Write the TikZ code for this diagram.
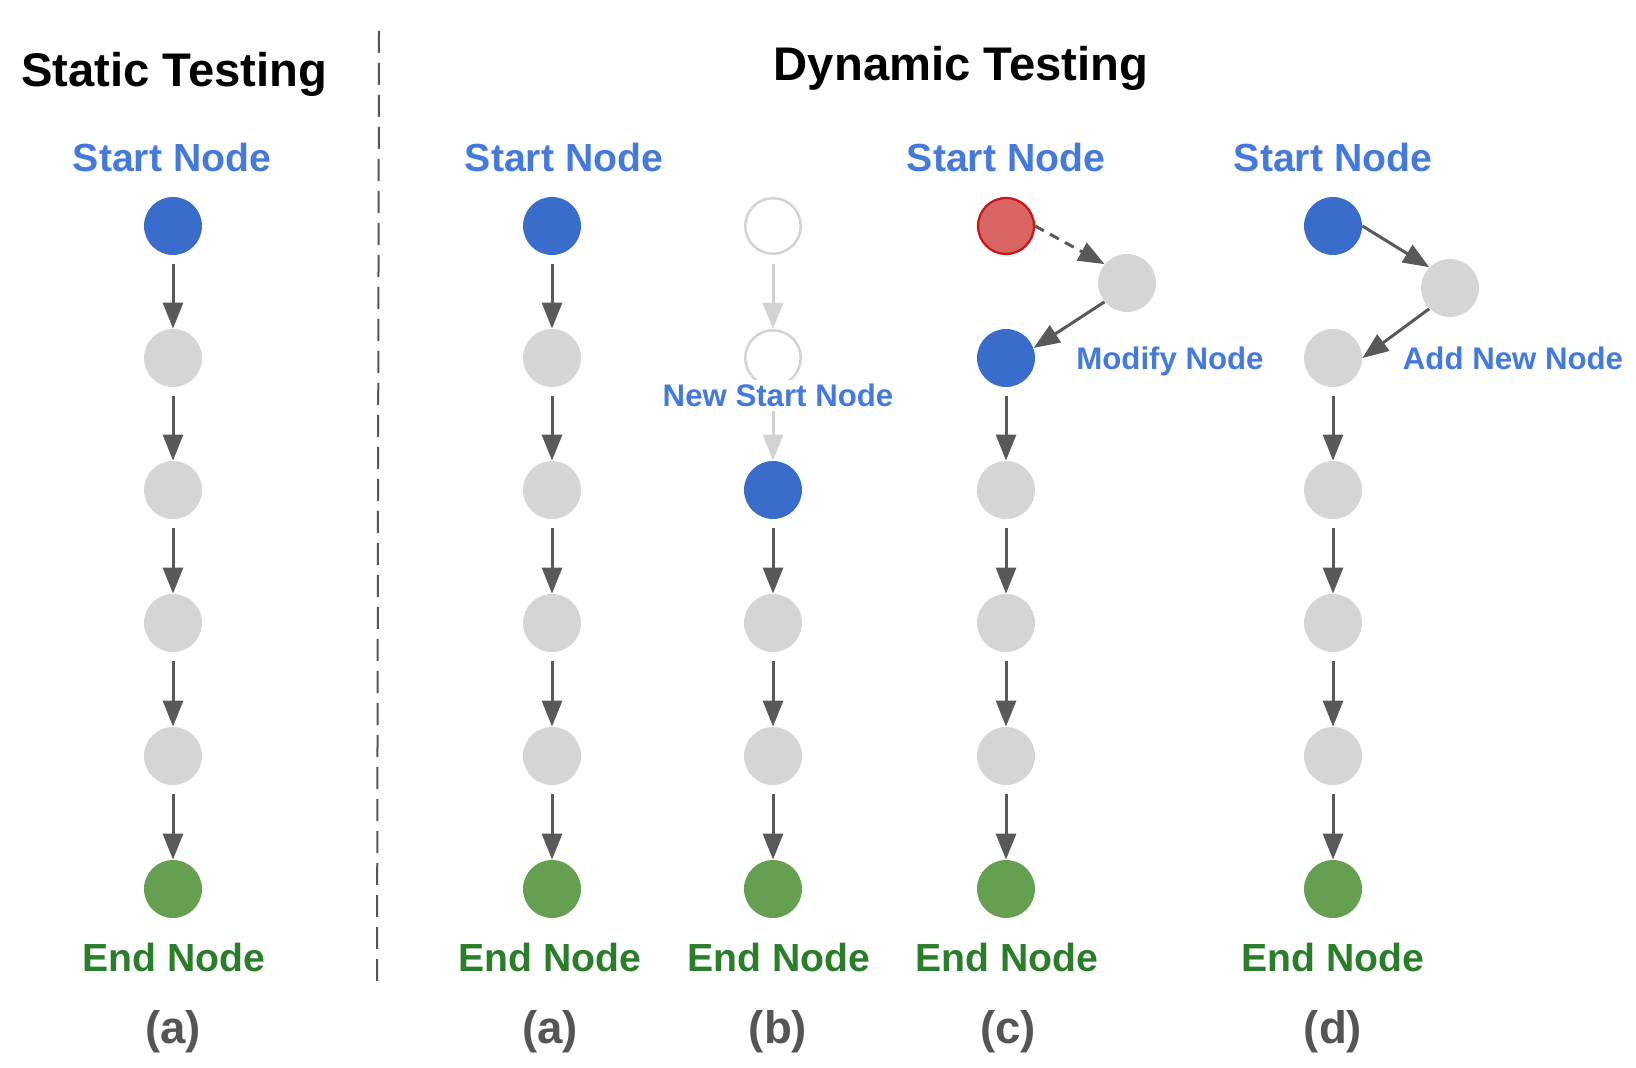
\documentclass[tikz,border=0pt]{standalone}
\usepackage{fontspec}
\setmainfont{Liberation Sans}
\usetikzlibrary{arrows.meta}
\definecolor{nodeblue}{HTML}{3A6DCB}
\definecolor{labelblue}{HTML}{4479DD}
\definecolor{nodegray}{HTML}{D5D5D5}
\definecolor{nodegreen}{HTML}{64A04F}
\definecolor{labelgreen}{HTML}{2A7E2A}
\definecolor{arrowgray}{HTML}{595959}
\definecolor{fadegray}{HTML}{D3D3D3}
\definecolor{redfill}{HTML}{D96464}
\definecolor{redborder}{HTML}{C81414}
\definecolor{subgray}{HTML}{555555}
\begin{document}
\begin{tikzpicture}[x=0.5pt,y=-0.5pt,
  dot/.style={circle,minimum size=29pt,inner sep=0pt},
  bluedot/.style={dot,fill=nodeblue},
  graydot/.style={dot,fill=nodegray},
  greendot/.style={dot,fill=nodegreen},
  fadedot/.style={dot,draw=fadegray,line width=1.25pt,fill=white,minimum size=27.75pt},
  reddot/.style={dot,draw=redborder,line width=1.1pt,fill=redfill,minimum size=28pt},
  flow/.style={draw=arrowgray,line width=1.5pt,-{Triangle[length=13pt,width=10pt]}},
  vflow/.style={flow,shorten <=4.5pt},
  fadeflow/.style={vflow,draw=fadegray},
  title/.style={anchor=base,font=\fontsize{23.6pt}{28pt}\selectfont\bfseries,text=black},
  startlab/.style={anchor=base,font=\fontsize{19.6pt}{23pt}\selectfont\bfseries,text=labelblue},
  endlab/.style={anchor=base,font=\fontsize{19.6pt}{23pt}\selectfont\bfseries,text=labelgreen},
  sublab/.style={anchor=base,font=\fontsize{22.8pt}{27pt}\selectfont\bfseries,text=subgray},
  notelab/.style={anchor=base,font=\fontsize{15.6pt}{19pt}\selectfont\bfseries,text=labelblue}
]
\useasboundingbox (0,0) rectangle (1636,1068);
\fill[white] (0,0) rectangle (1636,1068);

% titles and separator
\node[title] (tstatic) at (174,87) {Static Testing};
\node[title] (tdyn) at (961,81) {Dynamic Testing};
\coordinate (septop) at (379,31);
\coordinate (sepbot) at (377,982);
\draw[subgray,line width=1pt,dash pattern=on 11pt off 5pt] (septop) -- (sepbot);

% ---------- static column
\node[bluedot]  (s1) at (173,226) {};
\node[graydot]  (s2) at (173,358) {};
\node[graydot]  (s3) at (173,490) {};
\node[graydot]  (s4) at (173,623) {};
\node[graydot]  (s5) at (173,756) {};
\node[greendot] (s6) at (173,889) {};
\foreach \a/\b in {s1/s2,s2/s3,s3/s4,s4/s5,s5/s6} \draw[vflow] (\a) -- (\b);
\node[startlab] (sS) at (172,172) {Start Node};
\node[endlab]   (sE) at (174,971) {End Node};
\node[sublab]   (sL) at (173,1043) {(a)};

% ---------- dynamic (a)
\node[bluedot]  (a1) at (552,226) {};
\node[graydot]  (a2) at (552,358) {};
\node[graydot]  (a3) at (552,490) {};
\node[graydot]  (a4) at (552,623) {};
\node[graydot]  (a5) at (552,756) {};
\node[greendot] (a6) at (552,889) {};
\foreach \a/\b in {a1/a2,a2/a3,a3/a4,a4/a5,a5/a6} \draw[vflow] (\a) -- (\b);
\node[startlab] (aS) at (564,172) {Start Node};
\node[endlab]   (aE) at (550,971) {End Node};
\node[sublab]   (aL) at (550,1043) {(a)};

% ---------- dynamic (b)
\node[fadedot]  (b1) at (773,226) {};
\node[fadedot]  (b2) at (773,358) {};
\node[bluedot]  (b3) at (773,490) {};
\node[graydot]  (b4) at (773,623) {};
\node[graydot]  (b5) at (773,756) {};
\node[greendot] (b6) at (773,889) {};
\draw[fadeflow] (b1) -- (b2);
\draw[fadeflow] (b2) -- (b3);
\foreach \a/\b in {b3/b4,b4/b5,b5/b6} \draw[vflow] (\a) -- (\b);
\node[notelab,fill=white,inner sep=2pt] (bN) at (778,407) {New Start Node};
\node[endlab]   (bE) at (779,971) {End Node};
\node[sublab]   (bL) at (778,1043) {(b)};

% ---------- dynamic (c)
\node[reddot]   (c1) at (1006,226) {};
\node[graydot]  (cx) at (1127,283) {};
\node[bluedot]  (c2) at (1006,358) {};
\node[graydot]  (c3) at (1006,490) {};
\node[graydot]  (c4) at (1006,623) {};
\node[graydot]  (c5) at (1006,756) {};
\node[greendot] (c6) at (1006,889) {};
\draw[flow,dash pattern=on 5pt off 3.5pt] (c1.east) -- (cx.140);
\draw[flow] (cx.220) -- (c2.20);
\foreach \a/\b in {c2/c3,c3/c4,c4/c5,c5/c6} \draw[vflow] (\a) -- (\b);
\node[startlab] (cS) at (1006,172) {Start Node};
\node[notelab]  (cM) at (1170,370) {Modify Node};
\node[endlab]   (cE) at (1007,971) {End Node};
\node[sublab]   (cL) at (1008,1043) {(c)};

% ---------- dynamic (d)
\node[bluedot]  (d1) at (1333,226) {};
\node[graydot]  (dx) at (1450,288) {};
\node[graydot]  (d2) at (1333,358) {};
\node[graydot]  (d3) at (1333,490) {};
\node[graydot]  (d4) at (1333,623) {};
\node[graydot]  (d5) at (1333,756) {};
\node[greendot] (d6) at (1333,889) {};
\draw[flow] (d1.east) -- (dx.135);
\draw[flow] (dx.225) -- (d2.east);
\foreach \a/\b in {d2/d3,d3/d4,d4/d5,d5/d6} \draw[vflow] (\a) -- (\b);
\node[startlab] (dS) at (1333,172) {Start Node};
\node[notelab]  (dA) at (1513,370) {Add New Node};
\node[endlab]   (dE) at (1333,971) {End Node};
\node[sublab]   (dL) at (1333,1043) {(d)};
\end{tikzpicture}
\end{document}
